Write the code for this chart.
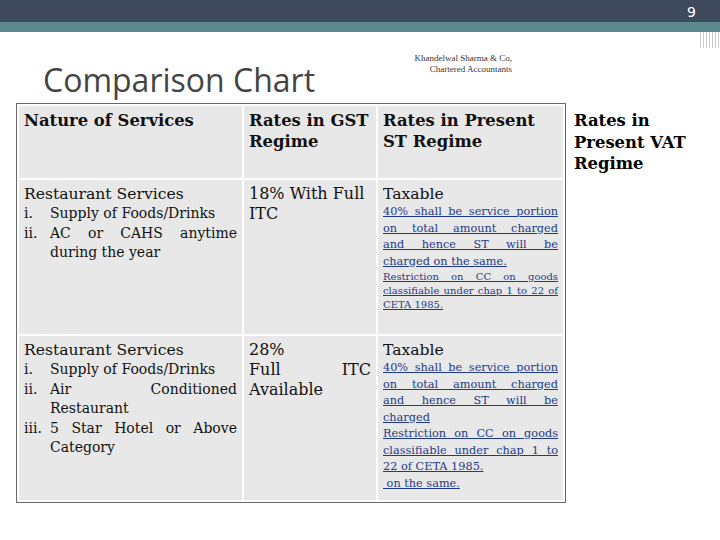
<!DOCTYPE html><html><head><meta charset="utf-8">
<script src="https://cdn.jsdelivr.net/npm/chart.js@4"></script>
<style>
body{margin:0;width:720px;height:540px;position:relative;background:#fff;overflow:hidden;font-family:"DejaVu Serif",serif}
#top{position:absolute;left:0;top:0;width:720px;height:22px;background:#3e4a5c}
#strip{position:absolute;left:0;top:22px;width:720px;height:10px;background:#5b8a90}
#edge{position:absolute;left:700px;top:32px;width:20px;height:16px;background:repeating-linear-gradient(90deg,#ccc 0 1px,#fff 1px 3px)}
#pg{position:absolute;right:24px;top:4px;color:#fff;font:14px "DejaVu Sans",sans-serif}
#title{position:absolute;left:43px;top:58px;font:32px "Open Sans",sans-serif;color:#444}
#firm{position:absolute;left:410px;top:53px;width:102px;text-align:right;font:9px "Liberation Serif",serif;color:#333;line-height:11px}
table{position:absolute;left:17px;top:104px;border-collapse:collapse;outline:1.5px solid #666;table-layout:fixed;width:546px}
td{background:#e8e8e8;border:2px solid #fff;vertical-align:top;padding:4px 5px;color:#111;overflow:hidden}
.h{font-weight:bold;font-size:16.4px;line-height:21px}
.b{font-size:15.6px;line-height:20px}
.s{font-size:14px;line-height:19.5px}
.l{font-size:11.3px;line-height:16.5px;color:#1f3a8a;text-decoration:underline}
.m{font-size:10px;line-height:14px;color:#1f3a8a;text-decoration:underline}
.j{text-align:justify;text-align-last:justify}
.e{text-align:left}
#vat{position:absolute;left:574px;top:110px;font-weight:bold;font-size:16.4px;line-height:21.5px}
.li{display:flex}.n{width:26px;flex:none}
</style></head><body>
<div id="top"></div><div id="strip"></div><div id="edge"></div><div id="pg">9</div>
<div id="title">Comparison Chart</div>
<div id="firm">Khandelwal Sharma &amp; Co, Chartered Accountants</div>
<div id="tbl"></div>
<div id="vat"></div>
<script>
const headers=["Nature of Services","Rates in GST|Regime","Rates in Present|ST Regime","Rates in|Present VAT|Regime"];
const services=["Restaurant Services","Restaurant Services"];
const items=[["Supply of Foods/Drinks","AC or CAHS anytime|during the year"],["Supply of Foods/Drinks","Air Conditioned|Restaurant","5 Star Hotel or Above|Category"]];
const gstRates=["18% With Full|ITC","28%|Full ITC|Available"];
const stStatus=["Taxable","Taxable"];
const stNotes=["40% shall be service portion|on total amount charged|and hence ST will be|charged on the same.","40% shall be service portion|on total amount charged|and hence ST will be|charged"];
const ccNotes=["Restriction on CC on goods|classifiable under chap 1 to 22 of|CETA 1985.","Restriction on CC on goods|classifiable under chap 1 to|22 of CETA 1985.| on the same."];
const roman=["i.","ii.","iii."];
const widths=[225,134,187];const heights=[76,158,168];
const lines=(t)=>{const p=t.split('|');return p.map((x,i)=>`<div class="${i<p.length-1&&!/\.$/.test(x)&&x!=='28%'?'j':'e'}">${x.replace(/^ /,'&nbsp;')}</div>`).join('')};
let h='<table><colgroup>'+widths.map(w=>`<col style="width:${w}px">`).join('')+'</colgroup><tr>';
for(let i=0;i<3;i++)h+=`<td class="h" style="height:${heights[0]-12}px">${headers[i].replace(/\|/g,'<br>')}</td>`;
h+='</tr>';
for(let r=0;r<2;r++){
 h+=`<tr><td style="height:${heights[r+1]-12}px"><div class="b">${services[r]}</div><div class="s">${items[r].map((x,k)=>`<div class="li"><span class="n">${roman[k]}</span><div style="flex:1">${lines(x)}</div></div>`).join('')}</div></td>`;
 h+=`<td class="b" style="font-size:16px">${r==1?lines(gstRates[r]):gstRates[r].replace('|','<br>')}</td>`;
 h+=`<td><div class="b">${stStatus[r]}</div><div class="l">${lines(stNotes[r])}</div><div class="${r==0?'m':'l'}">${lines(ccNotes[r])}</div></td></tr>`;
}
h+='</table>';
document.getElementById('tbl').innerHTML=h;
document.getElementById('vat').innerHTML=headers[3].replace(/\|/g,'<br>');
</script></body></html>
